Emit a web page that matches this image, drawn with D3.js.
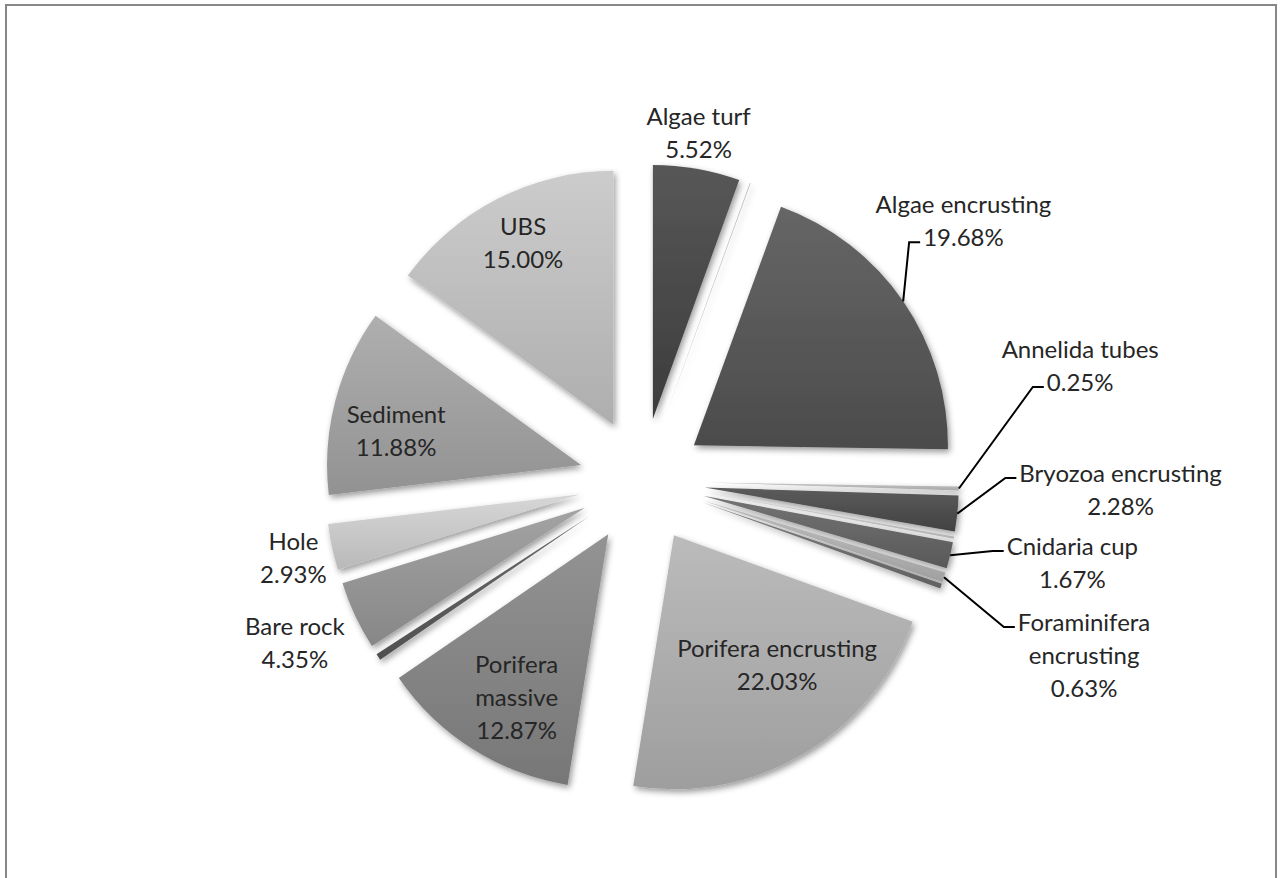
<!DOCTYPE html>
<html lang="en">
<head>
<meta charset="utf-8">
<title>Benthic cover</title>
<script src="https://cdn.jsdelivr.net/npm/d3@7/dist/d3.min.js"></script>
<style>
  html, body { margin: 0; background: #fff; }
  svg { display: block; }
  .label text { font-family: Lato, "Open Sans", sans-serif; font-size: 24px; fill: #262626; }
</style>
</head>
<body>
<svg id="chart" width="1280" height="878"></svg>
<script>
// cover categories, clockwise from 12 o'clock ('' = slice whose label was removed in the original)
const categories = ['Algae turf', '', 'Algae encrusting', 'Annelida tubes', 'Bryozoa encrusting', '',
  'Cnidaria cup', 'Foraminifera encrusting', '', 'Porifera encrusting', 'Porifera massive', '',
  'Bare rock', 'Hole', 'Sediment', 'UBS'];
// percent cover
const values = [5.52, 0.05, 19.68, 0.25, 2.28, 0.15, 1.67, 0.63, 0.30, 22.03, 12.87, 0.41, 4.35, 2.93, 11.88, 15.00];
// grey tone of each slice
const tones = ['#444444', '#b0b0b0', '#555555', '#c0c0c0', '#4a4a4a', '#cccccc', '#646464', '#b8b8b8',
  '#6e6e6e', '#b3b3b3', '#878787', '#5a5a5a', '#999999', '#d2d2d2', '#a6a6a6', '#c6c6c6'];

// label placement: in = inside slice, out = outside end, lead = outside with leader line
const labelMode = {
  'Algae turf': 'out', 'Algae encrusting': 'lead', 'Annelida tubes': 'lead', 'Bryozoa encrusting': 'lead',
  'Cnidaria cup': 'lead', 'Foraminifera encrusting': 'lead', 'Porifera encrusting': 'in',
  'Porifera massive': 'in', 'Bare rock': 'out', 'Hole': 'out', 'Sediment': 'in', 'UBS': 'in'
};
const wrapped = new Set(['Porifera massive', 'Foraminifera encrusting']);
// labels that were dragged by hand in the original
const labelNudge = {
  'UBS': [-5, -14], 'Sediment': [-3, 13], 'Porifera massive': [9, 5], 'Porifera encrusting': [8, -32],
  'Algae turf': [-6, 9], 'Bare rock': [-3, 1], 'Hole': [4, 2], 'Algae encrusting': [-56, 0],
  'Annelida tubes': [-8, -74], 'Bryozoa encrusting': [10, -24], 'Cnidaria cup': [4, -25],
  'Foraminifera encrusting': [18, -23]
};

const cx = 642, cy = 481, radius = 254, explode = 63;
const fontSize = 24, lineH = 33;

const svg = d3.select('#chart');

svg.append('rect')
  .attr('x', 6).attr('y', 5).attr('width', 1270).attr('height', 920)
  .attr('fill', '#fff').attr('stroke', '#878787').attr('stroke-width', 2);

const defs = svg.append('defs');
defs.append('filter').attr('id', 'soft-shadow')
  .attr('filterUnits', 'userSpaceOnUse')
  .attr('x', -400).attr('y', -400).attr('width', 800).attr('height', 800)
  .append('feDropShadow')
  .attr('dx', 2).attr('dy', 3).attr('stdDeviation', 3)
  .attr('flood-color', '#000').attr('flood-opacity', 0.4);

tones.forEach((c, i) => {
  const grad = defs.append('linearGradient').attr('id', `g${i}`)
    .attr('x1', 0).attr('y1', 0).attr('x2', 0).attr('y2', 1);
  grad.append('stop').attr('offset', 0).attr('stop-color', d3.interpolateRgb(c, '#fff')(0.1));
  grad.append('stop').attr('offset', 1).attr('stop-color', d3.interpolateRgb(c, '#000')(0.12));
});

const pie = d3.pie().sort(null).value(d => d);
const arcs = pie(values);
const arc = d3.arc().innerRadius(0).outerRadius(radius);

const mid = a => (a.startAngle + a.endAngle) / 2;
const unit = a => [Math.sin(mid(a)), -Math.cos(mid(a))];
const sliceOrigin = a => {
  const [ux, uy] = unit(a);
  return [cx + explode * ux, cy + explode * uy];
};

svg.append('g').selectAll('g').data(arcs).join('g')
  .attr('transform', d => `translate(${sliceOrigin(d)})`)
  .append('path')
  .attr('d', arc)
  .attr('fill', (d, i) => `url(#g${i})`)
  .attr('filter', 'url(#soft-shadow)');

// labels
const labelled = arcs.map((a, i) => ({ a, i, name: categories[i] })).filter(d => d.name);

const leaderLayer = svg.append('g');
const labels = svg.append('g').attr('class', 'label')
  .selectAll('g').data(labelled).join('g');

labels.each(function (d) {
  const lines = wrapped.has(d.name) ? d.name.split(' ') : [d.name];
  lines.push(values[d.i].toFixed(2) + '%');
  d.lines = lines;
  const g = d3.select(this);
  lines.forEach((t, k) => {
    g.append('text')
      .attr('text-anchor', 'middle')
      .attr('y', (k - (lines.length - 1) / 2) * lineH + fontSize * 0.35)
      .text(t);
  });
  d.widths = g.selectAll('text').nodes().map(n => n.getComputedTextLength());
  d.hw = d3.max(d.widths) / 2;
  d.hh = lines.length * lineH / 2;
});

labelled.forEach(d => {
  const [ox, oy] = sliceOrigin(d.a);
  const [ux, uy] = unit(d.a);
  const mode = labelMode[d.name];
  const dist = mode === 'in'
    ? radius * 0.74
    : radius + (mode === 'lead' ? 50 : 4) + d.hw * Math.abs(ux) + d.hh * Math.abs(uy);
  d.x = ox + ux * dist;
  d.y = oy + uy * dist;
});

// push overlapping leader labels apart
const stack = labelled.filter(d => labelMode[d.name] === 'lead').sort((p, q) => p.y - q.y);
for (let it = 0; it < 300; it++) {
  for (let k = 1; k < stack.length; k++) {
    const p = stack[k - 1], q = stack[k];
    const over = (p.y + p.hh + 8) - (q.y - q.hh);
    if (Math.abs(p.x - q.x) < p.hw + q.hw && over > 0) {
      p.y -= over / 2;
      q.y += over / 2;
    }
  }
}

labelled.forEach(d => {
  const n = labelNudge[d.name] || [0, 0];
  d.x += n[0];
  d.y += n[1];
});

labels.attr('transform', d => `translate(${d.x},${d.y})`);

leaderLayer.selectAll('polyline')
  .data(labelled.filter(d => labelMode[d.name] === 'lead'))
  .join('polyline')
  .attr('fill', 'none')
  .attr('stroke', '#000')
  .attr('stroke-width', 2)
  .attr('points', d => {
    const [ox, oy] = sliceOrigin(d.a);
    const [ux, uy] = unit(d.a);
    const px = ox + ux * radius, py = oy + uy * radius;
    let best = null;
    d.lines.forEach((t, k) => {
      const lx = d.x - d.widths[k] / 2 - 3;
      const ly = d.y + (k - (d.lines.length - 1) / 2) * lineH + fontSize * 0.35 - 4;
      const dd = Math.hypot(lx - px, ly - py);
      if (!best || dd < best.dd) best = { lx, ly, dd };
    });
    return [[px, py], [best.lx - 11, best.ly], [best.lx, best.ly]].join(' ');
  });
</script>
</body>
</html>
